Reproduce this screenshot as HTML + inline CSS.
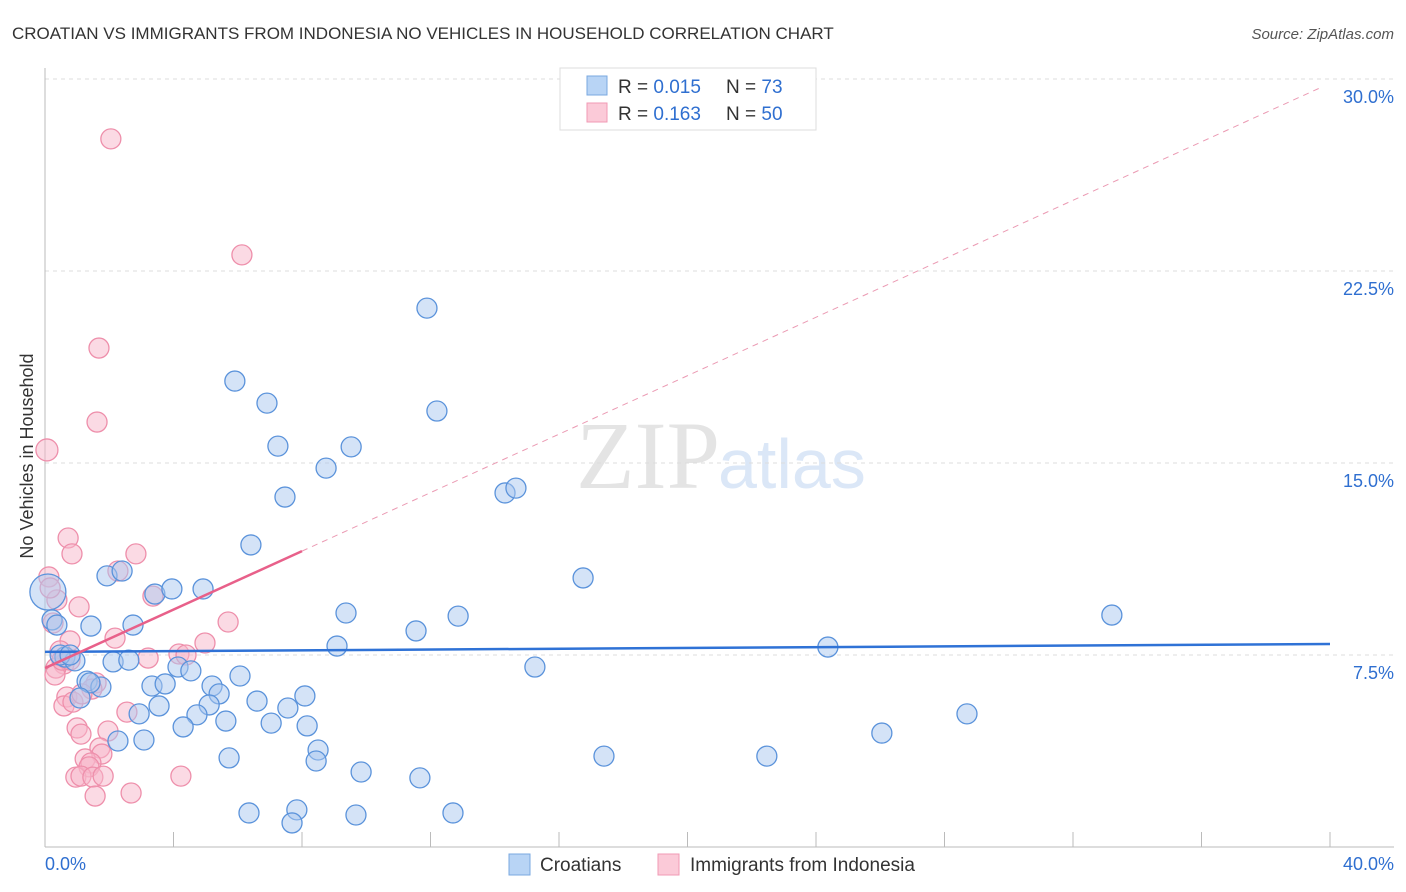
<!DOCTYPE html>
<html><head><meta charset="utf-8"><style>
body{margin:0;background:#fff;font-family:"Liberation Sans",sans-serif}
svg{display:block}
</style></head><body>
<svg id="c" width="1406" height="892" xmlns="http://www.w3.org/2000/svg">
<text x="12" y="39" font-size="17" fill="#333">CROATIAN VS IMMIGRANTS FROM INDONESIA NO VEHICLES IN HOUSEHOLD CORRELATION CHART</text>
<text x="1394" y="39" font-size="15" fill="#555" font-style="italic" text-anchor="end">Source: ZipAtlas.com</text>
<text x="33" y="456" font-size="18" fill="#333" text-anchor="middle" transform="rotate(-90 33 456)">No Vehicles in Household</text>
<text x="720" y="488" font-size="96" fill="#e4e4e4" text-anchor="end" font-family="Liberation Serif,serif">ZIP</text>
<text x="718" y="488" font-size="70" fill="#dbe7f7">atlas</text>
<g id="grid"></g><g id="pts"></g><g id="lines"></g>
<g>
<rect x="560" y="68" width="256" height="62" fill="#fff" stroke="#ddd"/>
<rect x="587" y="76" width="20" height="19" fill="#b8d4f5" stroke="#7aa8e0"/>
<rect x="587" y="103" width="20" height="19" fill="#fbcad8" stroke="#f09ab4"/>
<text x="618" y="93" font-size="19" fill="#333">R = <tspan fill="#2f6fd0">0.015</tspan><tspan x="726">N = </tspan><tspan fill="#2f6fd0">73</tspan></text>
<text x="618" y="120" font-size="19" fill="#333">R = <tspan fill="#2f6fd0"> 0.163</tspan><tspan x="726">N = </tspan><tspan fill="#2f6fd0">50</tspan></text>
</g>
<g>
<rect x="509" y="854" width="21" height="21" fill="#b8d4f5" stroke="#7aa8e0"/>
<text x="540" y="871" font-size="19" fill="#333">Croatians</text>
<rect x="658" y="854" width="21" height="21" fill="#fbcad8" stroke="#f09ab4"/>
<text x="690" y="871" font-size="19" fill="#333">Immigrants from Indonesia</text>
</g>
<text x="45" y="870" font-size="18" fill="#2f6fd0">0.0%</text>
<text x="1394" y="870" font-size="18" fill="#2f6fd0" text-anchor="end">40.0%</text>
</svg>
<script>
const yTicks=[7.5,15,22.5,30];
const yTickLabels=["7.5%","15.0%","22.5%","30.0%"];
const blueX=[11.89,5.91,6.91,12.20,7.25,9.53,8.75,7.47,14.32,14.66,6.41,16.75,1.93,2.40,3.42,3.95,4.92,9.37,12.86,33.21,11.55,1.43,2.74,0.22,9.09,24.37,2.12,2.61,0.62,0.93,15.25,4.14,4.54,6.07,3.33,3.74,5.20,5.42,1.31,1.74,8.09,6.60,7.56,5.11,3.55,2.93,4.73,5.63,28.70,7.04,8.16,4.30,26.05,2.27,3.08,8.50,5.73,8.44,17.40,22.47,9.84,11.67,6.35,7.84,7.69,9.68,12.70,0.47,0.78,1.40,1.09,0.37];
const blueY=[21.05,18.20,17.34,17.03,15.66,15.63,14.80,13.67,13.83,14.02,11.80,10.51,10.59,10.78,9.88,10.08,10.08,9.14,9.02,9.06,8.44,8.63,8.67,8.87,7.85,7.81,7.23,7.30,7.42,7.27,7.03,7.03,6.88,6.68,6.29,6.37,6.29,5.98,6.48,6.25,5.90,5.70,5.43,5.55,5.51,5.20,5.16,4.92,5.20,4.84,4.73,4.69,4.45,4.14,4.18,3.79,3.48,3.36,3.55,3.55,2.93,2.70,1.33,1.45,0.94,1.25,1.33,7.50,7.50,6.41,5.82,8.67];
const blueBigX=[0.09],blueBigY=[9.96];
const pinkX=[2.05,6.13,1.68,1.62,0.72,0.84,2.83,0.12,2.27,0.37,3.36,1.06,5.70,0.25,0.78,2.18,4.98,4.17,4.39,3.21,0.47,0.59,0.34,0.31,1.59,1.46,0.68,0.59,0.87,2.55,1.00,1.12,1.96,1.71,1.77,1.25,1.43,1.37,0.96,1.12,1.49,1.81,4.23,1.56,2.68,0.53,0.78,0.16,1.15];
const pinkY=[27.66,23.13,19.49,16.60,12.07,11.45,11.45,10.55,10.78,9.65,9.80,9.38,8.79,8.75,8.05,8.16,7.97,7.54,7.50,7.38,7.66,7.15,6.99,6.72,6.41,6.17,5.86,5.51,5.66,5.27,4.65,4.41,4.53,3.87,3.63,3.44,3.28,3.13,2.73,2.77,2.73,2.77,2.77,1.99,2.11,7.30,7.30,10.12,5.98];
const pinkBigX=[0.06],pinkBigY=[15.51];
const blueTrend=[7.62,7.93];
const pinkTrend=[6.99,0.571];
const NS="http://www.w3.org/2000/svg";
const sx=v=>45+v*32.125, sy=v=>847-v*25.6;
function mk(tag,attrs,parent){const e=document.createElementNS(NS,tag);for(const k in attrs)e.setAttribute(k,attrs[k]);document.getElementById(parent).appendChild(e);return e;}
yTicks.forEach((t,i)=>{
 const l=mk('line',{x1:45,x2:1394,y1:sy(t),y2:sy(t),stroke:'#ddd','stroke-dasharray':'4,4'},'grid');
 
 
 const tx=mk('text',{x:1394,y:sy(t)+24,'font-size':18,fill:'#2f6fd0','text-anchor':'end'},'grid');
 tx.textContent=yTickLabels[i];
 
 
});
const ax=mk('line',{x1:45,x2:45,y1:68,y2:847,stroke:'#bbb'},'grid');


const bx=mk('line',{x1:45,x2:1394,y1:847,y2:847,stroke:'#bbb'},'grid');


for(let i=1;i<=10;i++){const t=mk('line',{x1:sx(i*4),x2:sx(i*4),y1:832,y2:847,stroke:'#bbb'},'grid');
 
 }
function dots(X,Y,r,fill,stroke,name){X.forEach((x,i)=>{const c=mk('circle',{cx:sx(x),cy:sy(Y[i]),r:r,fill:fill,'fill-opacity':0.5,stroke:stroke,'stroke-width':1.3},'pts');
 
 });}
dots(pinkX,pinkY,10,'#f7b6c9','#ee8fab','indonesia-point');
dots(pinkBigX,pinkBigY,11,'#f7b6c9','#ee8fab','indonesia-point');
dots(blueX,blueY,10,'#aac8f0','#5b93db','croatian-point');
dots(blueBigX,blueBigY,18,'#aac8f0','#5b93db','croatian-point');
const bl=mk('line',{x1:sx(0),y1:sy(blueTrend[0]),x2:sx(40),y2:sy(blueTrend[1]),stroke:'#2f72d6','stroke-width':2.5},'lines');


const pl=mk('line',{x1:sx(0),y1:sy(pinkTrend[0]),x2:sx(8),y2:sy(pinkTrend[0]+8*pinkTrend[1]),stroke:'#e8608a','stroke-width':2.5},'lines');


const pd=mk('line',{x1:sx(8),y1:sy(pinkTrend[0]+8*pinkTrend[1]),x2:sx(39.7),y2:sy(pinkTrend[0]+39.7*pinkTrend[1]),stroke:'#eb9ab3','stroke-width':1,'stroke-dasharray':'6,5'},'lines');


</script>
</body></html>
